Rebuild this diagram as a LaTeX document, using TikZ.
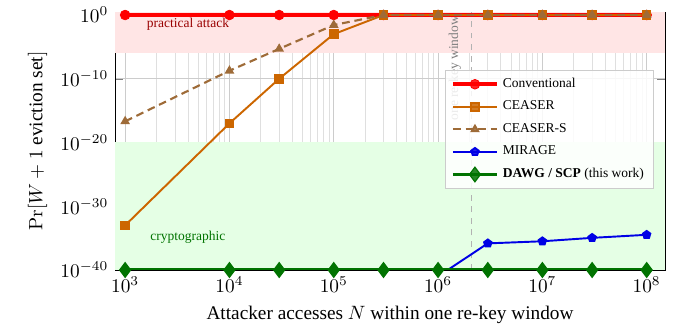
\documentclass[tikz,border=0pt]{standalone}
\usepackage[no-math]{fontspec}
\setmainfont{Liberation Serif}
\usepackage{pgfplots}
\pgfplotsset{compat=1.18}

\definecolor{ceaserorange}{rgb}{0.80,0.40,0.00}
\definecolor{ceaserbrown}{rgb}{0.62,0.42,0.22}
\definecolor{dawggreen}{rgb}{0.00,0.45,0.00}

\begin{document}
\begin{tikzpicture}[
	conventional/.style={red, line width=2.2pt, mark=*, mark size=2.5pt, mark options={line width=0.4pt}},
	ceaser/.style={ceaserorange, line width=1pt, mark=square*, mark size=2pt},
	ceasers/.style={ceaserbrown, line width=1.1pt, dash pattern=on 4pt off 2.5pt, mark=triangle*, mark size=1.8pt, mark options={solid}},
	mirage/.style={blue!90!black, line width=1pt, mark=pentagon*, mark size=2pt},
	dawg/.style={dawggreen, line width=1.8pt, mark=diamond*, mark size=3.8pt, mark options={line width=0.6pt}},
	zonelabel/.style={font=\scriptsize},
	rekey/.style={gray!60, dashed, line width=0.8pt}]
	\begin{axis}[
		name=plot,
		scale only axis, width=285pt, height=133.7pt,
		xmode=log, ymode=log,
		xmin=800, xmax=1.5e8, ymin=1e-40, ymax=3,
		ytick={1e0,1e-10,1e-20,1e-30,1e-40}, yminorticks=false,
		xtick={1e3,1e4,1e5,1e6,1e7,1e8},
		xmajorgrids, xminorgrids, ymajorgrids,
		major grid style={gray!40}, minor grid style={gray!25},
		xlabel={Attacker accesses $N$ within one re-key window},
		ylabel={$\Pr[W+1$ eviction set$]$},
		legend style={at={(0.98,0.775)}, anchor=north east, font=\scriptsize,
			draw=gray!40, fill=white, fill opacity=0.85, text opacity=1,
			row sep=1.5pt, cells={anchor=west}},
		legend image code/.code={\draw[mark repeat=2, mark phase=2, #1] plot coordinates {(0cm,0cm) (0.4cm,0cm) (0.8cm,0cm)};}]

		\fill[red!10] (axis cs:800,1e-6) rectangle (axis cs:1.5e8,3);
		\fill[green!10] (axis cs:800,1e-40) rectangle (axis cs:1.5e8,1e-20);
		\node[zonelabel, text=red!60!black] (practical) at (axis cs:4e3,0.04) {practical attack};
		\node[zonelabel, text=green!45!black] (crypto) at (axis cs:4e3,1.6e-35) {cryptographic};

		\coordinate (rkbot) at (axis cs:2.1e6,1e-40);
		\coordinate (rktop) at (axis cs:2.1e6,3);
		\draw[rekey] (rkbot) -- (rktop);
		\node[zonelabel, text=gray, rotate=90, anchor=east, inner sep=2pt] (rklabel) at (axis cs:1.45e6,3) {one re-key window};

		\addplot[conventional] coordinates {(1e3,1) (1e4,1) (3e4,1) (1e5,1) (3e5,1) (1e6,1) (3e6,1) (1e7,1) (3e7,1) (1e8,1)};
		\addlegendentry{Conventional}
		\addplot[ceaser] coordinates {(1e3,1e-33) (1e4,1e-17) (3e4,1e-10) (1e5,1e-3) (3e5,1) (1e6,1) (3e6,1) (1e7,1) (3e7,1) (1e8,1)};
		\addlegendentry{CEASER}
		\addplot[ceasers] coordinates {(1e3,2.1e-17) (1e4,1.8e-9) (3e4,4.9e-6) (1e5,2.7e-2) (3e5,1) (1e6,1) (3e6,1) (1e7,1) (3e7,1) (1e8,1)};
		\addlegendentry{CEASER-S}
		\addplot[mirage, mark=none, forget plot] coordinates {(1e6,1e-41) (3e6,1.5e-36)};
		\addplot[mirage] coordinates {(3e6,1.5e-36) (1e7,3.2e-36) (3e7,1.1e-35) (1e8,3.3e-35)};
		\addlegendentry{MIRAGE}
		\addplot[dawg] coordinates {(1e3,1e-40) (1e4,1e-40) (3e4,1e-40) (1e5,1e-40) (3e5,1e-40) (1e6,1e-40) (3e6,1e-40) (1e7,1e-40) (3e7,1e-40) (1e8,1e-40)};
		\addlegendentry{\textbf{DAWG / SCP} (this work)}
	\end{axis}
	\pgfresetboundingbox
	\useasboundingbox (-59.6pt,-33.7pt) rectangle (291.2pt,139.9pt);
\end{tikzpicture}
\end{document}
